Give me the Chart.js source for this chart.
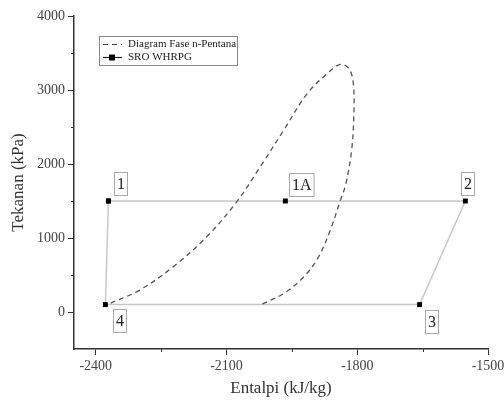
<!DOCTYPE html>
<html>
<head>
<meta charset="utf-8">
<script src="https://cdn.jsdelivr.net/npm/chart.js@4"></script>
<style>
  html, body { margin: 0; padding: 0; background: #fff; }
  #wrap { width: 504px; height: 410px; }
</style>
</head>
<body>
<div id="wrap"><canvas id="phChart"></canvas></div>
<script>
// ------------------------
// Data
// ------------------------
const stateNames = ["1", "1A", "2", "3", "4"];
const stateEnthalpy = [-2371, -1965, -1552, -1657, -2378];
const statePressure = [1500, 1500, 1500, 100, 100];

const domeEnthalpy = [-2366, -2300, -2223, -2146, -2077, -2023, -1969, -1915, -1869, -1839, -1819,
    -1809, -1808, -1813, -1826, -1840, -1862, -1889, -1923, -1969, -2016, -2019];
const domePressure = [120, 293, 608, 1013, 1486, 1959, 2455, 2951, 3221, 3346, 3288,
    3086, 2634, 2185, 1735, 1486, 1104, 743, 473, 249, 113, 100];

const xTicks = [-2400, -2100, -1800, -1500];
const yTicks = [0, 1000, 2000, 3000, 4000];

const seriesNames = ["Diagram Fase n-Pentana", "SRO WHRPG"];

const serif = "'Liberation Serif', 'DejaVu Serif', serif";

// cycle closes back on state 1
const cyclePoints = stateEnthalpy.map((h, i) => ({ x: h, y: statePressure[i] }));
cyclePoints.push({ x: stateEnthalpy[0], y: statePressure[0] });
const domePoints = domeEnthalpy.map((h, i) => ({ x: h, y: domePressure[i] }));

// label box offsets relative to each state marker
const boxOffsets = [[6, -29], [4, -28], [-4, -29], [5, 5], [8, 4]];

const overlayPlugin = {
    id: "overlay",
    afterDraw(chart) {
        const ctx = chart.ctx;
        const xs = chart.scales.x, ys = chart.scales.y;
        ctx.save();

        // minor ticks halfway between major ones
        ctx.strokeStyle = "#333";
        ctx.lineWidth = 1;
        ctx.beginPath();
        for (let i = 0; i < xTicks.length - 1; i++) {
            const px = Math.round(xs.getPixelForValue((xTicks[i] + xTicks[i + 1]) / 2)) + 0.5;
            ctx.moveTo(px, ys.bottom);
            ctx.lineTo(px, ys.bottom + 3);
        }
        for (let i = 0; i < yTicks.length - 1; i++) {
            const py = Math.round(ys.getPixelForValue((yTicks[i] + yTicks[i + 1]) / 2)) + 0.5;
            ctx.moveTo(xs.left, py);
            ctx.lineTo(xs.left - 3, py);
        }
        ctx.stroke();

        // state label boxes
        ctx.font = "16px " + serif;
        ctx.textBaseline = "middle";
        ctx.textAlign = "center";
        stateNames.forEach((name, i) => {
            const px = xs.getPixelForValue(stateEnthalpy[i]);
            const py = ys.getPixelForValue(statePressure[i]);
            const w = ctx.measureText(name).width + 5;
            const h = 23;
            const bx = Math.round(px + boxOffsets[i][0]) + 0.5;
            const by = Math.round(py + boxOffsets[i][1]) + 0.5;
            ctx.fillStyle = "#fff";
            ctx.fillRect(bx, by, w, h);
            ctx.strokeStyle = "#aaa";
            ctx.strokeRect(bx, by, w, h);
            ctx.fillStyle = "#222";
            ctx.fillText(name, bx + w / 2, by + h / 2 + 1);
        });

        // legend box
        const lx = 99.5, ly = 36.5, lw = 138, lh = 29;
        ctx.strokeStyle = "#888";
        ctx.strokeRect(lx, ly, lw, lh);
        ctx.font = "11px " + serif;
        ctx.textAlign = "left";
        ctx.fillStyle = "#222";

        ctx.strokeStyle = "#444";
        ctx.lineWidth = 1.2;
        ctx.setLineDash([5, 4]);
        ctx.beginPath();
        ctx.moveTo(103, ly + 8);
        ctx.lineTo(122, ly + 8);
        ctx.stroke();
        ctx.setLineDash([]);
        ctx.fillText(seriesNames[0], 128, ly + 8);

        ctx.strokeStyle = "#222";
        ctx.beginPath();
        ctx.moveTo(103, ly + 21);
        ctx.lineTo(122, ly + 21);
        ctx.stroke();
        ctx.fillStyle = "#000";
        ctx.fillRect(109, ly + 18, 6, 6);
        ctx.fillStyle = "#222";
        ctx.fillText(seriesNames[1], 128, ly + 21);

        ctx.restore();
    }
};

new Chart(document.getElementById("phChart").getContext("2d"), {
    type: "scatter",
    data: {
        datasets: [
            {
                label: seriesNames[0],
                data: domePoints,
                showLine: true,
                borderColor: "#555",
                borderWidth: 1.3,
                borderDash: [5, 4],
                tension: 0.35,
                pointRadius: 0,
                fill: false
            },
            {
                label: seriesNames[1],
                data: cyclePoints,
                showLine: true,
                borderColor: "#c8c8c8",
                borderWidth: 1.5,
                tension: 0,
                pointStyle: "rect",
                pointRadius: 3.5,
                pointBackgroundColor: "#000",
                pointBorderColor: "#000",
                pointBorderWidth: 0,
                fill: false
            }
        ]
    },
    options: {
        responsive: true,
        maintainAspectRatio: false,
        animation: false,
        layout: { padding: { top: 16, right: 16, bottom: 0, left: 0 } },
        plugins: {
            legend: { display: false },
            tooltip: { enabled: false }
        },
        scales: {
            x: {
                type: "linear",
                min: -2450,
                max: -1500,
                afterBuildTicks: s => { s.ticks = xTicks.map(v => ({ value: v })); },
                afterFit: s => { s.height = 61; s.paddingRight = 0; s.paddingLeft = 0; },
                grid: { drawOnChartArea: false, tickLength: 6, color: "#333" },
                border: { color: "#333", width: 1.5 },
                ticks: {
                    color: "#444",
                    font: { family: serif, size: 14 },
                    padding: 3,
                    maxRotation: 0,
                    autoSkip: false,
                    callback: v => String(v)
                },
                title: {
                    display: true,
                    text: "Entalpi (kJ/kg)",
                    color: "#333",
                    font: { family: serif, size: 17 },
                    padding: { top: 4, bottom: 11 }
                }
            },
            y: {
                type: "linear",
                min: -500,
                max: 4000,
                afterBuildTicks: s => { s.ticks = yTicks.map(v => ({ value: v })); },
                afterFit: s => { s.width = 74; s.paddingTop = 0; s.paddingBottom = 0; },
                grid: { drawOnChartArea: false, tickLength: 6, color: "#333" },
                border: { color: "#333", width: 1.5 },
                ticks: {
                    color: "#444",
                    font: { family: serif, size: 14 },
                    padding: 3,
                    autoSkip: false,
                    callback: v => String(v)
                },
                title: {
                    display: true,
                    text: "Tekanan (kPa)",
                    color: "#333",
                    font: { family: serif, size: 17 },
                    padding: { top: 8, bottom: 0 }
                }
            }
        }
    },
    plugins: [overlayPlugin]
});
</script>
</body>
</html>
